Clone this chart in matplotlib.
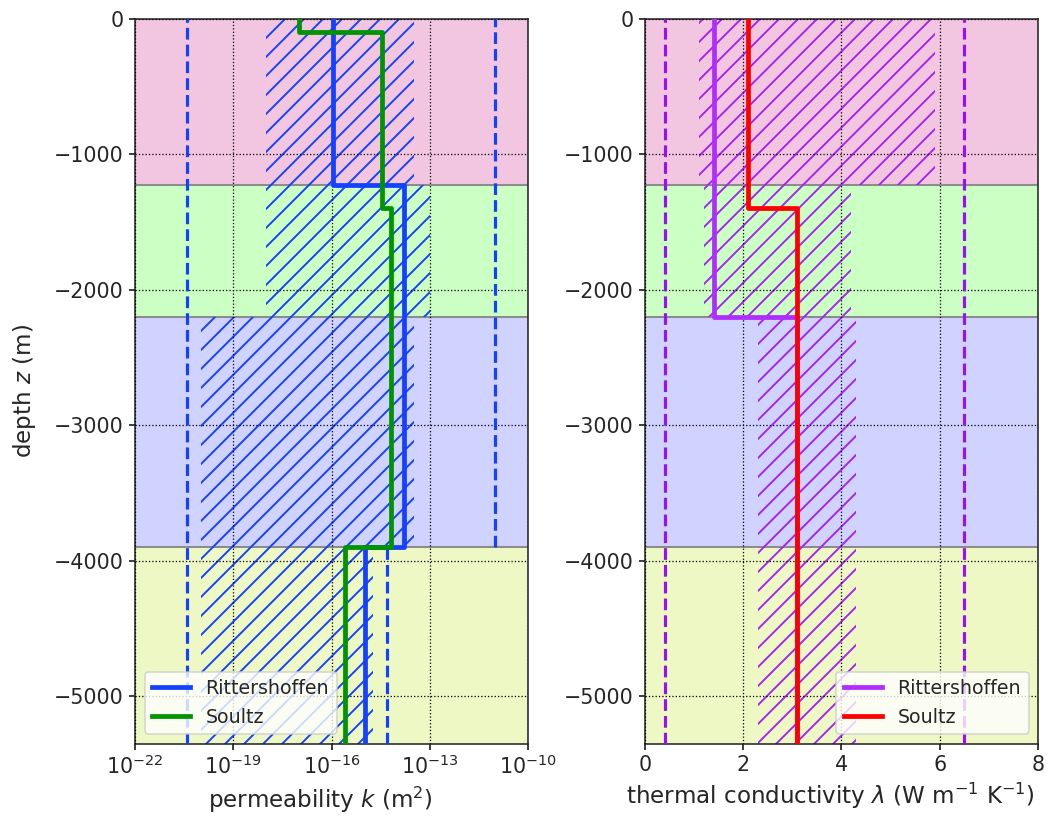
import numpy as np
import matplotlib
matplotlib.use("Agg")
import matplotlib.pyplot as plt

# layers (depth in m)
layer_top = [0, -1230, -2200, -3900]
layer_bot = [-1230, -2200, -3900, -5350]
layer_colors = ['#F2C6E0', '#CCFFC4', '#D0D2FF', '#EEF8C4']

# permeability, Rittershoffen (per layer)
rit_k = [1.1e-16, 1.6e-14, 1.6e-14, 1.05e-15]
rit_k_lo = [1e-18, 1e-18, 1e-20, 1e-20]
rit_k_hi = [3.3e-14, 1e-13, 3.2e-14, 1.8e-15]
rit_k_min = [4e-21, 4e-21, 4e-21, 4e-21]
rit_k_max = [1e-11, 1e-11, 1e-11, 5e-15]

# permeability, Soultz
soultz_k_depth = [0, -100, -1400, -3900, -5350]
soultz_k = [1e-17, 3.6e-15, 6.5e-15, 2.5e-16]

# thermal conductivity, Rittershoffen (per layer)
rit_lam = [1.41, 1.41, 3.1, 3.1]
rit_lam_lo = [1.1, 1.2, 2.3, 2.3]
rit_lam_hi = [5.9, 4.2, 4.3, 4.3]
rit_lam_min = [0.4, 0.4, 0.4, 0.4]
rit_lam_max = [6.5, 6.5, 6.5, 6.5]

# thermal conductivity, Soultz
soultz_lam_depth = [0, -1400, -5350]
soultz_lam = [2.1, 3.1]

DPI = 114
plt.rcParams['font.size'] = 13
plt.rcParams['axes.labelsize'] = 14.5
plt.rcParams['legend.fontsize'] = 12
plt.rcParams['text.color'] = '#262626'
plt.rcParams['axes.labelcolor'] = '#262626'
plt.rcParams['xtick.color'] = '#262626'
plt.rcParams['ytick.color'] = '#262626'
plt.rcParams['axes.edgecolor'] = '#262626'
plt.rcParams['axes.linewidth'] = 1.0
plt.rcParams['hatch.linewidth'] = 1.2
plt.rcParams['xtick.major.width'] = 1.1
plt.rcParams['ytick.major.width'] = 1.1


def steps(vals, edges):
    x = np.repeat(vals, 2)
    y = np.column_stack([edges[:-1], edges[1:]]).ravel()
    return x, y


def runs(vals):
    # merge consecutive layers with the same value
    out = []
    start = 0
    for i in range(1, len(vals) + 1):
        if i == len(vals) or vals[i] != vals[start]:
            out.append((vals[start], layer_top[start], layer_bot[i - 1]))
            start = i
    return out


def layout(ax):
    for t, b, c in zip(layer_top, layer_bot, layer_colors):
        ax.axhspan(b, t, color=c, lw=0, zorder=0)
    for b in layer_bot[:-1]:
        ax.axhline(b, color='#8c8c8c', lw=1.3, zorder=1)
    ax.grid(True, color='k', ls=':', lw=0.8)
    ax.set_axisbelow(False)
    ax.set_ylim(layer_bot[-1], 0)
    ax.set_yticks([0, -1000, -2000, -3000, -4000, -5000])


def profile(ax, lo, hi, vmin, vmax, hcolor, dcolor):
    for t, b, l, h in zip(layer_top, layer_bot, lo, hi):
        ax.fill_betweenx([b, t], l, h, facecolor='none', edgecolor=hcolor,
                         hatch='//', lw=0, zorder=2)
    for v, t, b in runs(vmin) + runs(vmax):
        ax.vlines(v, b, t, colors=dcolor, linestyles='--', lw=2, zorder=3)


fig = plt.figure(figsize=(1058 / DPI, 825 / DPI), dpi=DPI)
ax1 = fig.add_axes([0.1276, 0.0985, 0.3715, 0.879])
ax2 = fig.add_axes([0.6096, 0.0985, 0.3715, 0.879])

# left: permeability
blue = '#1440FF'
green = '#009400'
layout(ax1)
ax1.set_xscale('log')
ax1.set_xlim(1e-22, 1e-10)
ax1.set_xticks([1e-22, 1e-19, 1e-16, 1e-13, 1e-10])
ax1.xaxis.set_minor_locator(matplotlib.ticker.NullLocator())
profile(ax1, rit_k_lo, rit_k_hi, rit_k_min, rit_k_max, blue, blue)
x, y = steps(rit_k, layer_top + [layer_bot[-1]])
ax1.plot(x, y, color=blue, lw=3, label='Rittershoffen', zorder=4)
x, y = steps(soultz_k, soultz_k_depth)
ax1.plot(x, y, color=green, lw=3, label='Soultz', zorder=5)
ax1.set_xlabel(r'permeability $k$ (m$^2$)')
ax1.set_ylabel(r'depth $z$ (m)', labelpad=10)
ax1.xaxis.label.set_x(0.472)
ax1.yaxis.label.set_y(0.486)
ax1.legend(loc='lower left')

# right: thermal conductivity
purple = '#B02CFF'
red = '#FF0000'
layout(ax2)
ax2.set_xlim(0, 8)
ax2.set_xticks([0, 2, 4, 6, 8])
profile(ax2, rit_lam_lo, rit_lam_hi, rit_lam_min, rit_lam_max, '#A424F0', '#9A10F5')
x, y = steps(rit_lam, layer_top + [layer_bot[-1]])
ax2.plot(x, y, color=purple, lw=3, label='Rittershoffen', zorder=4)
x, y = steps(soultz_lam, soultz_lam_depth)
ax2.plot(x, y, color=red, lw=3, label='Soultz', zorder=5)
ax2.set_xlabel(r'thermal conductivity $\lambda$ (W m$^{-1}$ K$^{-1}$)')
ax2.xaxis.label.set_x(0.472)
ax2.legend(loc='lower right')

fig.savefig('out.png', dpi=DPI)
